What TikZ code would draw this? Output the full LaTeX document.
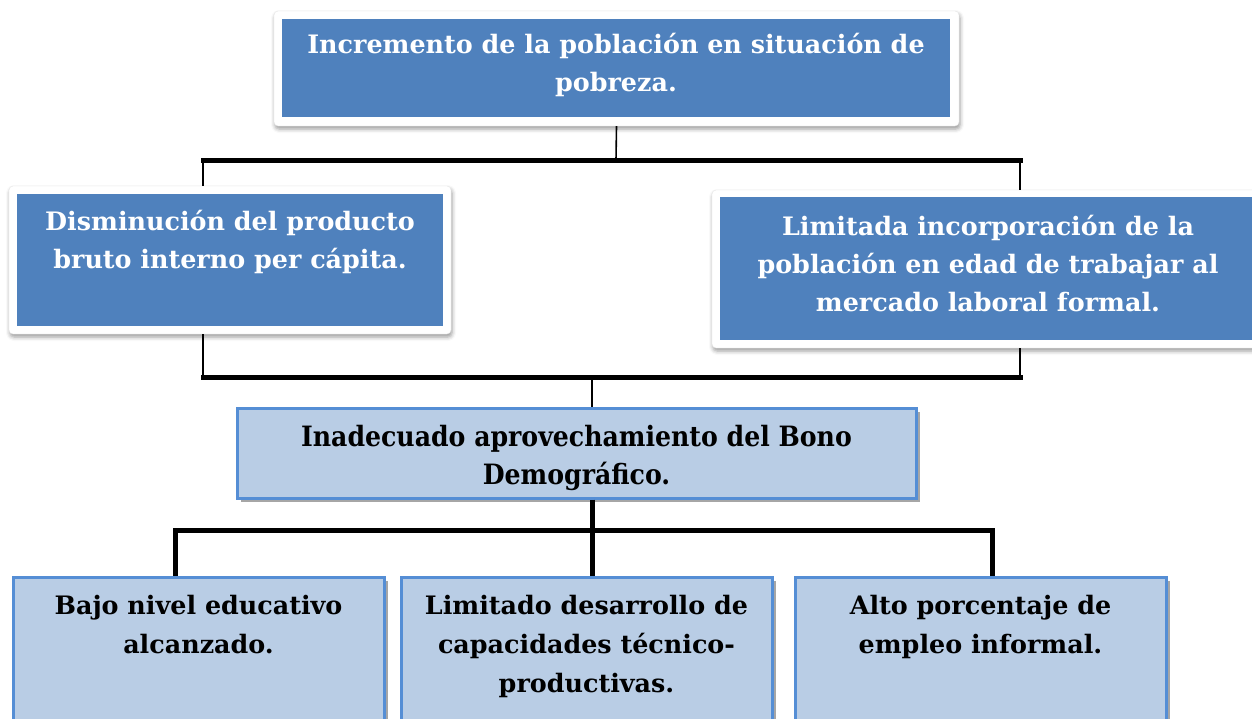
\documentclass[tikz,border=0pt]{standalone}
\usepackage{fontspec}
\setmainfont{DejaVu Serif}
\newfontfamily\condfont{DejaVu Serif Condensed}
\usetikzlibrary{shadows,shadows.blur}
\definecolor{boxblue}{HTML}{4F81BD}
\definecolor{lightfill}{HTML}{B9CDE5}
\definecolor{lightborder}{HTML}{558ED5}
\definecolor{shadowgray}{HTML}{A6A6A6}
\newcommand{\txtsize}{\fontsize{25.4}{38}\selectfont}
\newcommand{\lowsize}{\fontsize{25.4}{39}\selectfont}
\newcommand{\condsize}{\fontsize{28}{38}\selectfont}
\begin{document}
\begin{tikzpicture}[x=1pt,y=-1pt,
  frame/.style={rectangle, draw=gray!20, line width=0.4pt, fill=white, rounded corners=4pt, inner sep=0pt,
    blur shadow={shadow xshift=1pt, shadow yshift=-3pt, shadow blur radius=4pt, shadow opacity=40}},
  darkbox/.style={rectangle, fill=boxblue, inner sep=0pt},
  lightbox/.style={rectangle, fill=lightfill, draw=lightborder, line width=3pt, inner sep=0pt,
    general shadow={shadow xshift=4pt, shadow yshift=-4pt, fill=shadowgray}},
  wtxt/.style={text=white, font=\txtsize\bfseries, align=center, anchor=north, inner sep=0pt},
  btxt/.style={text=black, font=\lowsize\bfseries, align=center, anchor=north, inner sep=0pt},
  ctxt/.style={text=black, font=\condsize\condfont\bfseries, align=center, anchor=north, inner sep=0pt},
  thinline/.style={draw=black, line width=1.6pt},
  thickline/.style={draw=black, line width=5pt, line cap=rect, line join=miter}]
\useasboundingbox (0,0) rectangle (1252,718);
% top
\node[frame, minimum width=685pt, minimum height=115pt] (f1) at (616.5,68.5) {};
\node[darkbox, minimum width=668pt, minimum height=98pt] (d1) at (616,68) {};
\node[wtxt] (t1) at (616,33) {Incremento de la población en situación de\\pobreza.};
% left
\node[frame, minimum width=442pt, minimum height=148pt] (f2) at (230,260) {};
\node[darkbox, minimum width=426pt, minimum height=132pt] (d2) at (230,260) {};
\node[wtxt] (t2) at (230,210) {Disminución del producto\\bruto interno per cápita.};
% right
\node[frame, minimum width=552pt, minimum height=158pt] (f3) at (988,269) {};
\node[darkbox, minimum width=536pt, minimum height=143pt] (d3) at (988,268.5) {};
\node[wtxt] (t3) at (988,214.5) {Limitada incorporación de la\\población en edad de trabajar al\\mercado laboral formal.};
% middle
\node[lightbox, minimum width=679pt, minimum height=90pt] (m) at (576.5,453) {};
\node[ctxt] (tm) at (576.5,425) {Inadecuado aprovechamiento del Bono\\Demográfico.};
% bottom
\node[lightbox, minimum width=371pt, minimum height=150pt] (b1) at (198.5,652) {};
\node[btxt] (tb1) at (198.5,595) {Bajo nivel educativo\\alcanzado.};
\node[lightbox, minimum width=371pt, minimum height=150pt] (b2) at (586.5,652) {};
\node[btxt] (tb2) at (586.5,595) {Limitado desarrollo de\\capacidades técnico-\\productivas.};
\node[lightbox, minimum width=371pt, minimum height=150pt] (b3) at (980.5,652) {};
\node[btxt] (tb3) at (980.5,595) {Alto porcentaje de\\empleo informal.};
% junctions
\coordinate (j1) at (616,160);
\coordinate (j1l) at (203,160);
\coordinate (j1r) at (1020,160);
\coordinate (j2l) at (203,377);
\coordinate (j2r) at (1020,377);
\coordinate (j2m) at (592,377);
\coordinate (j3m) at (592,530);
\coordinate (j3l) at (175,530);
\coordinate (j3r) at (992,530);
% connectors
\draw[thinline] (f1.south) -- (j1);
\draw[thinline] (j1l) -- (j1l |- f2.north);
\draw[thinline] (j1r) -- (j1r |- f3.north);
\draw[thickline] (j1l) -- (j1r);
\draw[thinline] (j1l |- f2.south) -- (j2l);
\draw[thinline] (j1r |- f3.south) -- (j2r);
\draw[thickline] (j2l) -- (j2r);
\draw[thinline] (j2m) -- (j2m |- m.north);
\draw[thickline, line cap=butt] (j2m |- m.south) -- (j3m);
\draw[thickline, line cap=butt] (j3l |- b1.north) -- (j3l) -- (j3r) -- (j3r |- b3.north);
\draw[thickline, line cap=butt] (j3m) -- (j3m |- b2.north);
\end{tikzpicture}
\end{document}
